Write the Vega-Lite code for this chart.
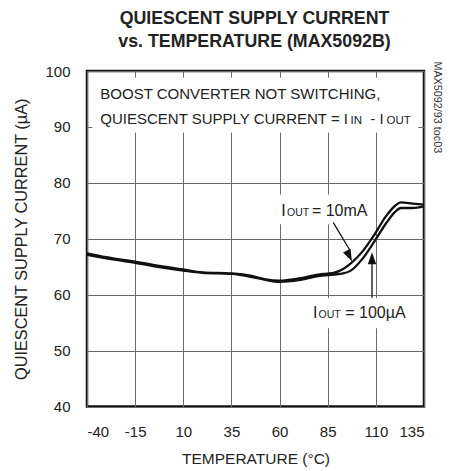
{
  "$schema": "https://vega.github.io/schema/vega-lite/v6.json",
  "autosize": {"type": "none"},
  "padding": {"left": 87, "top": 71, "right": 25, "bottom": 64.5},
  "width": 337,
  "height": 335.5,
  "background": "white",
  "config": {
    "font": "Liberation Sans, Arial, sans-serif",
    "view": {"stroke": "#111", "strokeWidth": 2.5},
    "axis": {
      "grid": true, "gridColor": "#6a6a6a", "gridWidth": 1, "gridOpacity": 1,
      "domain": false, "ticks": false, "tickSize": 0,
      "labelFontSize": 15, "labelColor": "#222",
      "titleFontWeight": "normal", "titleColor": "#222"
    }
  },
  "title": {
    "text": ["QUIESCENT SUPPLY CURRENT", "vs. TEMPERATURE (MAX5092B)"],
    "fontSize": 17.8, "fontWeight": "bold", "color": "#222",
    "lineHeight": 22.5, "anchor": "middle", "offset": 11, "dx": -1
  },
  "datasets": {
    "curves": [
      {"T": -40, "I": 67.4, "series": "IOUT = 10mA"},
      {"T": -30, "I": 66.7, "series": "IOUT = 10mA"},
      {"T": -15, "I": 65.9, "series": "IOUT = 10mA"},
      {"T": 0, "I": 65.0, "series": "IOUT = 10mA"},
      {"T": 10, "I": 64.5, "series": "IOUT = 10mA"},
      {"T": 20, "I": 64.0, "series": "IOUT = 10mA"},
      {"T": 35, "I": 63.8, "series": "IOUT = 10mA"},
      {"T": 45, "I": 63.4, "series": "IOUT = 10mA"},
      {"T": 52, "I": 62.8, "series": "IOUT = 10mA"},
      {"T": 60, "I": 62.5, "series": "IOUT = 10mA"},
      {"T": 70, "I": 62.9, "series": "IOUT = 10mA"},
      {"T": 80, "I": 63.6, "series": "IOUT = 10mA"},
      {"T": 88, "I": 63.9, "series": "IOUT = 10mA"},
      {"T": 93, "I": 64.6, "series": "IOUT = 10mA"},
      {"T": 97, "I": 65.6, "series": "IOUT = 10mA"},
      {"T": 103, "I": 67.7, "series": "IOUT = 10mA"},
      {"T": 109, "I": 70.6, "series": "IOUT = 10mA"},
      {"T": 115, "I": 73.9, "series": "IOUT = 10mA"},
      {"T": 120, "I": 75.9, "series": "IOUT = 10mA"},
      {"T": 123, "I": 76.5, "series": "IOUT = 10mA"},
      {"T": 129, "I": 76.3, "series": "IOUT = 10mA"},
      {"T": 135, "I": 76.1, "series": "IOUT = 10mA"},
      {"T": -40, "I": 67.1, "series": "IOUT = 100µA"},
      {"T": -30, "I": 66.5, "series": "IOUT = 100µA"},
      {"T": -15, "I": 65.7, "series": "IOUT = 100µA"},
      {"T": 0, "I": 64.8, "series": "IOUT = 100µA"},
      {"T": 10, "I": 64.3, "series": "IOUT = 100µA"},
      {"T": 20, "I": 63.9, "series": "IOUT = 100µA"},
      {"T": 35, "I": 63.7, "series": "IOUT = 100µA"},
      {"T": 45, "I": 63.2, "series": "IOUT = 100µA"},
      {"T": 52, "I": 62.7, "series": "IOUT = 100µA"},
      {"T": 60, "I": 62.3, "series": "IOUT = 100µA"},
      {"T": 70, "I": 62.6, "series": "IOUT = 100µA"},
      {"T": 80, "I": 63.3, "series": "IOUT = 100µA"},
      {"T": 88, "I": 63.6, "series": "IOUT = 100µA"},
      {"T": 93, "I": 63.8, "series": "IOUT = 100µA"},
      {"T": 97, "I": 64.3, "series": "IOUT = 100µA"},
      {"T": 103, "I": 66.4, "series": "IOUT = 100µA"},
      {"T": 109, "I": 69.4, "series": "IOUT = 100µA"},
      {"T": 115, "I": 72.6, "series": "IOUT = 100µA"},
      {"T": 120, "I": 74.8, "series": "IOUT = 100µA"},
      {"T": 123, "I": 75.5, "series": "IOUT = 100µA"},
      {"T": 129, "I": 75.5, "series": "IOUT = 100µA"},
      {"T": 135, "I": 75.8, "series": "IOUT = 100µA"}
    ],
    "masks": [
      {"T": -37.25, "T2": 132.0, "I": 89.0, "I2": 98.8},
      {"T": 57.8, "T2": 108.6, "I": 72.6, "I2": 77.9},
      {"T": 74.9, "T2": 128.9, "I": 54.0, "I2": 59.4}
    ],
    "arrows": [
      {"T": 87.9, "I": 72.87, "T2": 96.6, "I2": 67.9},
      {"T": 108.0, "I": 59.43, "T2": 108.0, "I2": 66.0}
    ],
    "noteText": [
      {"T": -33.1, "I": 94.99, "label": "BOOST CONVERTER NOT SWITCHING,"},
      {"T": -33.1, "I": 90.51, "label": "QUIESCENT SUPPLY CURRENT = I"},
      {"T": 107.1, "I": 90.51, "label": "- I"}
    ],
    "noteSub": [
      {"T": 96.8, "I": 90.51, "label": "IN"},
      {"T": 115.5, "I": 90.51, "label": "OUT"}
    ],
    "bigText": [
      {"T": 60.9, "I": 74.03, "label": "I"},
      {"T": 76.8, "I": 74.03, "label": "= 10mA"},
      {"T": 77.3, "I": 55.8, "label": "I"},
      {"T": 94.1, "I": 55.8, "label": "= 100µA"}
    ],
    "smallText": [
      {"T": 63.84, "I": 74.03, "label": "OUT"},
      {"T": 80.25, "I": 55.8, "label": "OUT"}
    ]
  },
  "layer": [
    {
      "data": {"name": "masks"},
      "mark": {"type": "rect", "fill": "white", "stroke": null},
      "encoding": {
        "x": {"field": "T", "type": "quantitative",
          "scale": {"domain": [-40, 135], "nice": false, "zero": false},
          "axis": {"values": [-40, -15, 10, 35, 60, 85, 110, 135], "title": "TEMPERATURE (°C)",
            "labelExpr": "'' + datum.value",
            "labelBaseline": "alphabetic", "labelPadding": 29.5, "titleFontSize": 15.5,
            "titleX": 168.5, "titleY": 56.5, "titleBaseline": "alphabetic", "titleAnchor": "middle"}},
        "x2": {"field": "T2"},
        "y": {"field": "I", "type": "quantitative",
          "scale": {"domain": [40, 100], "nice": false, "zero": false},
          "axis": {"values": [40, 50, 60, 70, 80, 90, 100], "title": "QUIESCENT SUPPLY CURRENT (µA)",
            "labelExpr": "'' + datum.value",
            "labelPadding": 17, "labelBaseline": "middle", "titleFontSize": 16.3,
            "titleX": -66, "titleY": 167.75, "titleBaseline": "middle", "titleAnchor": "middle", "titleAngle": -90}},
        "y2": {"field": "I2"}
      }
    },
    {
      "data": {"name": "curves"},
      "mark": {"type": "line", "color": "#111", "strokeWidth": 2.3, "interpolate": "monotone"},
      "encoding": {
        "x": {"field": "T", "type": "quantitative"},
        "y": {"field": "I", "type": "quantitative"},
        "detail": {"field": "series", "type": "nominal"}
      }
    },
    {
      "data": {"name": "arrows"},
      "mark": {"type": "rule", "color": "#111", "strokeWidth": 1.3},
      "encoding": {
        "x": {"field": "T", "type": "quantitative"},
        "y": {"field": "I", "type": "quantitative"},
        "x2": {"field": "T2"},
        "y2": {"field": "I2"}
      }
    },
    {
      "data": {"values": [{"T": 97.6, "I": 65.94}]},
      "mark": {"type": "point", "shape": "M0,0 L-0.35,-1 L0.35,-1 Z", "size": 576, "filled": true, "color": "#111", "opacity": 1, "angle": 334.2},
      "encoding": {
        "x": {"field": "T", "type": "quantitative"},
        "y": {"field": "I", "type": "quantitative"}
      }
    },
    {
      "data": {"values": [{"T": 108.0, "I": 67.6}]},
      "mark": {"type": "point", "shape": "M0,0 L-0.35,-1 L0.35,-1 Z", "size": 576, "filled": true, "color": "#111", "opacity": 1, "angle": 180},
      "encoding": {
        "x": {"field": "T", "type": "quantitative"},
        "y": {"field": "I", "type": "quantitative"}
      }
    },
    {
      "data": {"name": "noteText"},
      "mark": {"type": "text", "align": "left", "baseline": "alphabetic", "fontSize": 15, "color": "#222"},
      "encoding": {
        "x": {"field": "T", "type": "quantitative"},
        "y": {"field": "I", "type": "quantitative"},
        "text": {"field": "label"}
      }
    },
    {
      "data": {"name": "noteSub"},
      "mark": {"type": "text", "align": "left", "baseline": "alphabetic", "fontSize": 11.5, "color": "#222"},
      "encoding": {
        "x": {"field": "T", "type": "quantitative"},
        "y": {"field": "I", "type": "quantitative"},
        "text": {"field": "label"}
      }
    },
    {
      "data": {"name": "bigText"},
      "mark": {"type": "text", "align": "left", "baseline": "alphabetic", "fontSize": 16, "color": "#222"},
      "encoding": {
        "x": {"field": "T", "type": "quantitative"},
        "y": {"field": "I", "type": "quantitative"},
        "text": {"field": "label"}
      }
    },
    {
      "data": {"name": "smallText"},
      "mark": {"type": "text", "align": "left", "baseline": "alphabetic", "fontSize": 10.5, "color": "#222"},
      "encoding": {
        "x": {"field": "T", "type": "quantitative"},
        "y": {"field": "I", "type": "quantitative"},
        "text": {"field": "label"}
      }
    },
    {
      "data": {"values": [{"T": 141.5, "I": 93.5, "label": "MAX5092/93 toc03"}]},
      "mark": {"type": "text", "align": "center", "baseline": "middle", "angle": 90, "fontSize": 10.8, "color": "#333"},
      "encoding": {
        "x": {"field": "T", "type": "quantitative"},
        "y": {"field": "I", "type": "quantitative"},
        "text": {"field": "label"}
      }
    }
  ]
}
